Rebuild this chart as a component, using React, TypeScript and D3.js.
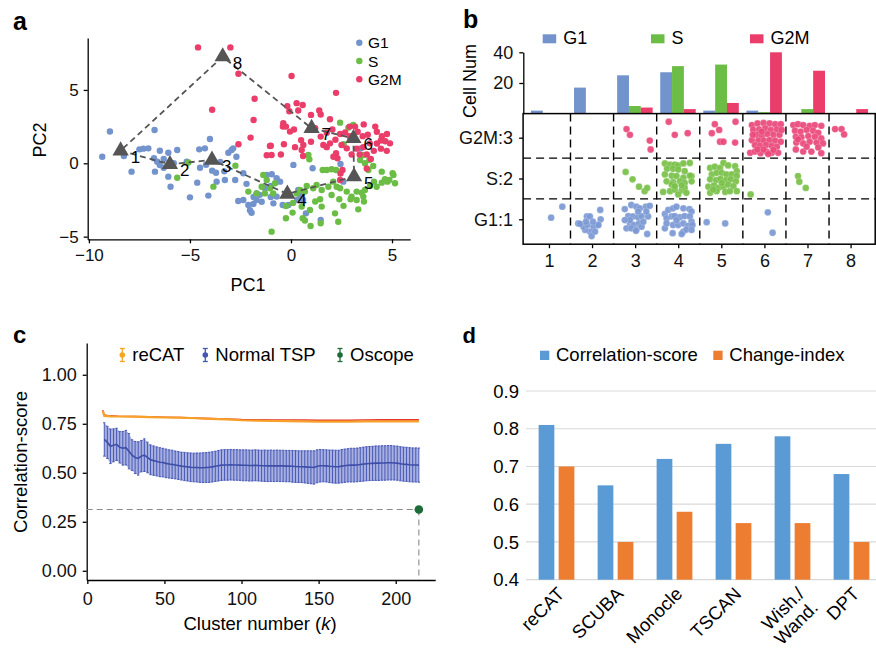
import { useRef, useEffect } from 'react'
import * as d3 from 'd3'

const FONT = '"Liberation Sans", Arial, Helvetica, sans-serif'

// ---------- panel a: PCA scatter ----------
const g1Points: [number, number][] = [
  [-9.34, 0.45], [-8.96, 2.17], [-8.27, 0.5], [-7.89, -0.57], [-7.31, 1.0], [-7.06, 1.02], [-6.75, 2.27],
  [-6.78, 0.34], [-6.62, 0.11], [-6.49, -0.12], [-6.49, 0.86], [-6.07, 0.72], [-5.63, 0.91], [-6.73, -0.57],
  [-6.07, -0.91], [-5.96, -1.6], [-6.3, 0.3], [-5.16, 0.11], [-4.64, -1.32], [-5.0, -2.32], [-4.54, 0.95],
  [-4.26, 1.02], [-4.01, 1.66], [-4.5, -0.3], [-4.2, -0.1], [-4.09, -2.2], [-3.71, -0.64], [-3.68, -1.25],
  [-3.27, -1.14], [-3.1, 0.72], [-2.94, 0.91], [-2.86, 1.02], [-2.7, 0.45], [-2.76, -1.14], [-2.36, -0.68],
  [-2.61, -2.57], [-2.36, -2.5], [-2.11, -2.84], [-1.86, -2.77], [-2.03, -3.2], [-1.7, -2.5], [-1.45, -2.62],
  [-1.95, -3.37], [-1.2, -0.8], [-0.95, -0.75], [-0.71, -1.02], [-0.54, -1.25], [-0.87, -2.73], [-0.41, -2.84],
  [0.12, -0.11], [0.36, -1.82], [0.74, -3.41], [1.07, -0.34], [1.47, -3.86], [2.59, -1.25], [3.45, 1.02],
  [-1.7, -2.05], [-1.29, -1.7], [-1.0, -1.55], [-0.71, -2.27], [-0.13, -2.84], [0.31, -2.5], [0.45, -2.2],
  [-2.2, -1.4], [-1.55, -2.15], [-6.3, -0.3], [-5.8, 0.0], [-3.5, 0.1], [-3.9, -0.5], [-3.3, -0.55],
  [-7.5, 0.95], [-1.0, -2.3], [-1.85, -2.3], [2.45, -0.05], [0.6, -2.5],
]
const sPoints: [number, number][] = [
  [-5.63, -0.98], [-5.08, 0.05], [-3.84, -1.59], [-2.75, -0.16], [-2.11, -1.93], [-1.37, -0.8], [-1.2, -1.14],
  [-1.45, -1.6], [-0.79, -1.36], [-1.04, -1.7], [-1.29, -2.05], [-1.7, -2.05], [-0.88, -2.05], [-0.96, -4.66],
  [-0.25, -3.75], [0.08, -3.36], [-0.25, -2.91], [0.53, -2.95], [0.58, -3.75], [0.69, -3.9], [0.94, -3.18],
  [0.97, -4.27], [1.44, -2.45], [1.47, -4.09], [1.52, -2.95], [2.01, -2.16], [2.34, -3.98], [2.39, -2.45],
  [2.18, -3.41], [2.95, -2.45], [3.25, -2.5], [3.33, -3.14], [3.5, -2.0], [3.61, -2.61], [4.49, -1.32],
  [4.77, -1.25], [5.03, -0.68], [5.15, -1.36], [2.43, 2.77], [3.08, 2.61], [0.86, 0.57], [0.91, 0.27],
  [1.57, -0.46], [1.77, -0.46], [2.01, -0.41], [2.23, -0.46], [3.42, 0.22], [3.66, 0.0], [3.88, 0.22],
  [3.58, 0.57], [3.83, -0.46], [4.07, -0.18], [4.49, -0.57], [4.65, -1.09], [4.87, -1.14], [5.07, -0.8],
  [4.11, -1.25], [4.24, -1.6], [3.91, -1.55], [3.66, -1.82], [3.58, -2.27], [3.25, -1.93], [3.0, -2.27],
  [2.76, -1.93], [2.43, -1.7], [2.26, -1.6], [2.09, -1.25], [1.85, -1.6], [1.52, -1.82], [1.27, -1.48],
  [1.1, -1.7], [0.78, -1.55], [0.69, -1.93], [0.45, -1.82], [0.28, -2.05], [2.84, 2.43], [2.6, 1.3],
  [1.2, -2.6], [0.1, -2.7], [2.6, -2.9],
]
const g2mPoints: [number, number][] = [
  [-4.6, 7.9], [-3.0, 7.9], [-2.6, 6.1], [-1.8, 4.4], [-3.9, 3.65], [-1.85, 2.95], [-2.0, 1.75], [-2.6, 1.3],
  [-1.2, 0.55], [-1.0, 1.2], [0.03, 5.95], [2.23, 4.8], [-0.18, 3.9], [0.28, 4.1], [0.58, 3.97], [0.36, 3.6],
  [-0.08, 3.55], [1.4, 3.6], [1.47, 3.33], [1.93, 3.0], [0.99, 3.3], [-0.38, 2.73], [-0.25, 2.5], [-0.05, 2.16],
  [0.99, 1.47], [0.5, 1.58], [1.47, 1.82], [1.77, 2.09], [1.93, 1.36], [2.2, 1.6], [2.43, 2.0], [2.68, 2.1],
  [2.9, 1.85], [3.17, 2.5], [3.3, 2.15], [3.55, 1.85], [3.8, 1.95], [4.17, 2.5], [4.25, 2.15], [4.5, 1.85],
  [4.75, 2.0], [4.67, 1.5], [4.9, 1.36], [4.74, 0.85], [4.45, 1.0], [4.1, 0.85], [3.75, 0.6], [4.25, 1.35],
  [3.9, 1.36], [3.58, 1.1], [3.25, 1.0], [3.4, 0.6], [3.0, 0.6], [2.76, 1.02], [2.5, 1.25], [2.23, 0.68],
  [2.3, 0.34], [2.1, 0.45], [1.77, 1.1], [1.6, 1.25], [0.61, 1.25], [0.53, 0.91], [0.2, 1.1], [-0.35, 1.3],
  [-1.04, 1.18], [-0.96, 0.57], [-0.5, 0.6], [0.6, 0.5], [3.75, -0.35], [2.43, -1.14], [2.55, -0.45],
  [2.45, -0.7], [3.95, 0.3], [1.2, 2.4], [2.05, 2.3], [3.6, 2.65], [2.9, 2.5], [0.15, 2.3], [-0.4, 2.5],
  [4.45, 1.55],
]
const centroids: [number, number][] = [
  [-8.43, 0.86], [-5.99, -0.07], [-3.91, 0.23], [-0.18, -2.09],
  [3.12, -0.91], [3.09, 1.7], [1.02, 2.39], [-3.38, 7.27],
]
const centroidLabels = ['1', '2', '3', '4', '5', '6', '7', '8']
const phaseNames = ['G1', 'S', 'G2M']

// ---------- panel b: cells per cluster ----------
const clusters = [1, 2, 3, 4, 5, 6, 7, 8]
const cellNumG1 = [2, 17, 25, 27, 2, 2, 0, 0]
const cellNumS = [0, 0, 5, 31, 32, 1, 3, 0]
const cellNumG2M = [0, 0, 4, 3, 7, 40, 28, 3]
const rowLabels = ['G1:1', 'S:2', 'G2M:3']
// [cluster, offset x, offset y] around (cluster, phase row)
const dotsG1: [number, number, number][] = [
  [1, 0.05, 0.04], [1, 0.31, 0.31],
  [2, -0.32, -0.1], [2, -0.12, 0.07], [2, -0.05, 0.07], [2, 0.19, 0.23], [2, 0.2, 0.0], [2, 0.12, -0.14],
  [2, 0.03, -0.18], [2, -0.05, -0.3], [2, -0.01, -0.41], [2, -0.16, -0.26], [2, -0.2, -0.18], [2, -0.28, -0.11],
  [2, -0.11, -0.14], [2, 0.07, -0.3], [2, 0.15, -0.14], [2, -0.14, -0.06], [2, 0.02, -0.06],
  [3, -0.24, 0.25], [3, -0.09, 0.35], [3, 0.03, 0.31], [3, 0.11, 0.27], [3, 0.25, 0.31], [3, 0.34, 0.33],
  [3, -0.16, 0.08], [3, -0.05, 0.07], [3, 0.07, 0.05], [3, 0.15, 0.08], [3, 0.3, 0.07], [3, -0.12, -0.1],
  [3, -0.03, -0.14], [3, 0.09, -0.1], [3, -0.2, -0.22], [3, -0.09, -0.22], [3, 0.03, -0.25], [3, 0.15, -0.18],
  [3, 0.28, -0.36], [3, 0.02, -0.28], [3, -0.12, -0.02], [3, 0.19, -0.06], [3, -0.24, -0.02], [3, 0.26, 0.19],
  [3, 0.07, 0.19],
  [4, -0.31, 0.13], [4, -0.23, 0.23], [4, -0.12, 0.27], [4, -0.04, 0.31], [4, 0.12, 0.27], [4, 0.26, 0.25],
  [4, 0.31, 0.19], [4, -0.27, 0.02], [4, -0.15, 0.07], [4, -0.08, 0.08], [4, 0.04, 0.05], [4, 0.15, 0.08],
  [4, 0.27, 0.07], [4, 0.31, -0.06], [4, -0.31, -0.22], [4, -0.12, -0.14], [4, 0.0, -0.14], [4, 0.12, -0.1],
  [4, 0.23, -0.16], [4, 0.33, -0.14], [4, -0.13, -0.34], [4, 0.12, -0.3], [4, 0.19, -0.25], [4, 0.31, -0.26],
  [4, 0.08, -0.36], [4, -0.04, -0.02], [4, -0.27, -0.1],
  [5, -0.34, -0.07], [5, 0.09, -0.1],
  [6, 0.08, 0.17], [6, 0.19, -0.33],
]
const dotsS: [number, number, number][] = [
  [3, -0.22, 0.16], [3, -0.06, -0.02], [3, 0.09, -0.2], [3, 0.22, -0.31], [3, 0.28, -0.23],
  [4, -0.31, 0.37], [4, -0.19, 0.34], [4, -0.08, 0.34], [4, 0.0, 0.32], [4, 0.12, 0.37], [4, 0.27, 0.38],
  [4, -0.26, 0.24], [4, -0.12, 0.24], [4, 0.0, 0.22], [4, 0.15, 0.18], [4, 0.31, 0.06], [4, -0.31, 0.1],
  [4, -0.15, 0.07], [4, -0.04, 0.06], [4, 0.12, 0.02], [4, 0.27, 0.07], [4, -0.27, -0.07], [4, -0.12, -0.09],
  [4, 0.04, -0.07], [4, 0.15, -0.11], [4, 0.31, -0.07], [4, -0.35, -0.33], [4, -0.19, -0.31], [4, -0.08, -0.27],
  [4, 0.08, -0.29], [4, 0.15, -0.23], [4, 0.0, -0.39], [4, -0.15, -0.15], [4, 0.08, -0.17], [4, -0.08, -0.19],
  [4, 0.19, -0.35],
  [5, -0.26, 0.26], [5, -0.15, 0.29], [5, -0.03, 0.26], [5, 0.05, 0.38], [5, 0.16, 0.32], [5, 0.32, 0.3],
  [5, 0.36, 0.18], [5, -0.22, 0.1], [5, -0.11, 0.14], [5, 0.01, 0.14], [5, 0.12, 0.1], [5, 0.24, 0.1],
  [5, 0.36, 0.06], [5, -0.26, -0.02], [5, -0.12, -0.04], [5, -0.02, -0.01], [5, 0.11, -0.04], [5, 0.22, -0.02],
  [5, 0.34, -0.07], [5, -0.3, -0.2], [5, -0.17, -0.17], [5, -0.07, -0.23], [5, 0.05, -0.2], [5, 0.16, -0.15],
  [5, 0.28, -0.19], [5, 0.36, -0.31], [5, -0.26, -0.35], [5, -0.11, -0.31], [5, 0.09, -0.33], [5, 0.2, -0.31],
  [5, 0.01, -0.11], [5, -0.19, -0.27],
  [6, -0.32, -0.39],
  [7, -0.22, 0.06], [7, -0.19, -0.08], [7, -0.04, -0.23],
]
const dotsG2M: [number, number, number][] = [
  [3, -0.2, 0.21], [3, -0.12, 0.07], [3, 0.34, -0.07], [3, 0.36, -0.29],
  [4, -0.22, 0.39], [4, -0.08, 0.07], [4, 0.22, 0.11],
  [5, -0.15, 0.33], [5, -0.22, 0.11], [5, -0.05, 0.19], [5, 0.33, 0.39], [5, -0.03, -0.1], [5, 0.05, -0.1],
  [5, 0.32, -0.12],
  [6, -0.29, 0.31], [6, -0.16, 0.35], [6, -0.02, 0.36], [6, 0.12, 0.35], [6, 0.25, 0.33], [6, 0.38, 0.33],
  [6, -0.26, 0.19], [6, -0.12, 0.2], [6, 0.02, 0.23], [6, 0.15, 0.19], [6, 0.29, 0.2], [6, -0.18, 0.07],
  [6, -0.06, 0.04], [6, 0.07, 0.09], [6, 0.21, 0.07], [6, 0.35, 0.07], [6, -0.29, -0.06], [6, -0.14, -0.07],
  [6, -0.01, -0.07], [6, 0.12, -0.06], [6, 0.25, -0.07], [6, 0.38, -0.1], [6, -0.22, -0.18], [6, -0.1, -0.2],
  [6, 0.04, -0.18], [6, 0.17, -0.2], [6, 0.29, -0.22], [6, -0.33, -0.37], [6, -0.22, -0.34], [6, -0.09, -0.38],
  [6, 0.05, -0.34], [6, 0.17, -0.37], [6, 0.32, -0.37], [6, -0.16, -0.29], [6, 0.21, -0.3], [6, -0.02, -0.29],
  [6, 0.4, 0.19], [6, -0.27, 0.07], [6, 0.09, -0.4], [6, -0.06, 0.15],
  [7, -0.33, 0.31], [7, -0.22, 0.33], [7, -0.1, 0.31], [7, 0.05, 0.29], [7, 0.17, 0.31], [7, 0.32, 0.29],
  [7, -0.29, 0.17], [7, -0.16, 0.15], [7, -0.02, 0.19], [7, 0.13, 0.17], [7, 0.25, 0.12], [7, -0.27, 0.02],
  [7, -0.14, 0.01], [7, 0.02, 0.04], [7, 0.17, 0.02], [7, 0.32, -0.02], [7, -0.26, -0.12], [7, -0.1, -0.14],
  [7, 0.05, -0.1], [7, 0.21, -0.12], [7, 0.36, -0.14], [7, -0.27, -0.29], [7, -0.1, -0.34], [7, 0.09, -0.34],
  [7, 0.32, -0.38], [7, -0.02, -0.22], [7, -0.22, -0.04], [7, 0.25, -0.24],
  [8, -0.36, 0.21], [8, -0.21, 0.21], [8, -0.15, 0.08],
]

// ---------- panel c: correlation score vs cluster number ----------
const tspK = [
  11, 13, 15, 17, 19, 21, 23, 25, 27, 29, 31, 33, 35, 37, 39, 41, 43, 45, 47, 49, 51, 53, 55, 57, 59, 61,
  63, 65, 67, 69, 71, 73, 75, 77, 79, 81, 83, 85, 87, 89, 91, 93, 95, 97, 99, 101, 103, 105, 107, 109, 111,
  113, 115, 117, 119, 121, 123, 125, 127, 129, 131, 133, 135, 137, 139, 141, 143, 145, 147, 149, 151, 153,
  155, 157, 159, 161, 163, 165, 167, 169, 171, 173, 175, 177, 179, 181, 183, 185, 187, 189, 191, 193, 195,
  197, 199, 201, 203, 205, 207, 209, 211, 213, 215,
]
const tspMean = [
  0.67, 0.655, 0.635, 0.64, 0.645, 0.63, 0.625, 0.628, 0.61, 0.59, 0.578, 0.573, 0.585, 0.59, 0.578, 0.566,
  0.562, 0.558, 0.554, 0.552, 0.548, 0.545, 0.543, 0.54, 0.537, 0.534, 0.532, 0.53, 0.528, 0.527, 0.527,
  0.526, 0.526, 0.527, 0.528, 0.53, 0.533, 0.536, 0.539, 0.54, 0.54, 0.541, 0.54, 0.54, 0.539, 0.538, 0.538,
  0.537, 0.537, 0.538, 0.537, 0.536, 0.536, 0.535, 0.536, 0.535, 0.536, 0.535, 0.535, 0.534, 0.534, 0.533,
  0.532, 0.531, 0.531, 0.53, 0.529, 0.528, 0.527, 0.533, 0.536, 0.536, 0.535, 0.533, 0.532, 0.531, 0.531,
  0.534, 0.536, 0.538, 0.539, 0.539, 0.54, 0.542, 0.544, 0.546, 0.547, 0.548, 0.549, 0.549, 0.55, 0.55,
  0.551, 0.551, 0.55, 0.549, 0.546, 0.544, 0.543, 0.541, 0.54, 0.54, 0.539,
]
const tspSd = [
  0.085, 0.082, 0.088, 0.084, 0.082, 0.08, 0.086, 0.088, 0.09, 0.078, 0.082, 0.085, 0.08, 0.083, 0.078,
  0.076, 0.075, 0.074, 0.074, 0.073, 0.073, 0.072, 0.072, 0.071, 0.071, 0.071, 0.072, 0.072, 0.073, 0.073,
  0.074, 0.075, 0.076, 0.076, 0.077, 0.077, 0.077, 0.078, 0.078, 0.078, 0.078, 0.078, 0.078, 0.078, 0.078,
  0.079, 0.079, 0.079, 0.079, 0.079, 0.079, 0.079, 0.08, 0.08, 0.08, 0.08, 0.08, 0.08, 0.08, 0.08, 0.08,
  0.081, 0.081, 0.081, 0.081, 0.082, 0.083, 0.084, 0.085, 0.084, 0.083, 0.082, 0.082, 0.083, 0.084, 0.084,
  0.084, 0.085, 0.085, 0.085, 0.086, 0.086, 0.086, 0.086, 0.087, 0.087, 0.087, 0.087, 0.088, 0.088, 0.088,
  0.088, 0.088, 0.088, 0.087, 0.087, 0.087, 0.087, 0.087, 0.087, 0.087, 0.087, 0.087,
]
const recatK = [10, 11, 15, 20, 30, 40, 50, 60, 70, 80, 90, 100, 110, 120, 130, 140, 150, 160, 170, 180, 190, 200, 210, 215]
const recatMean = [
  0.815, 0.79, 0.788, 0.787, 0.786, 0.784, 0.782, 0.781, 0.778, 0.775, 0.772, 0.768, 0.766, 0.764, 0.763,
  0.762, 0.761, 0.761, 0.761, 0.762, 0.762, 0.762, 0.762, 0.762,
]
const recatSd = [
  0.004, 0.004, 0.002, 0.001, 0.001, 0.001, 0.001, 0.001, 0.001, 0.001, 0.002, 0.003, 0.004, 0.005, 0.006,
  0.007, 0.007, 0.007, 0.007, 0.007, 0.008, 0.008, 0.008, 0.008,
]
const oscopeK = 215
const oscopeScore = 0.313
const cLegend = ['reCAT', 'Normal TSP', 'Oscope']

// ---------- panel d: method comparison ----------
const methods = ['reCAT', 'SCUBA', 'Monocle', 'TSCAN', 'Wish./Wand.', 'DPT']
const corrScore = [0.81, 0.65, 0.72, 0.76, 0.78, 0.68]
const changeIndex = [0.7, 0.5, 0.58, 0.55, 0.55, 0.5]
const dLegend = ['Correlation-score', 'Change-index']
const dTicks = [0.4, 0.5, 0.6, 0.7, 0.8, 0.9]

const COL_G1 = '#7393cd'
const COL_S = '#6cbd45'
const COL_G2M = '#ea3d69'

const App = () => {
  const chartRef = useRef<SVGSVGElement>(null)

  useEffect(() => {
    drawChart()
  }, [])

  const styleAxis = (g: any, size: number) => {
    g.attr('font-family', FONT).attr('font-size', size)
    g.selectAll('.domain').attr('stroke', '#000').attr('stroke-width', 1.3)
    g.selectAll('.tick line').attr('stroke', '#000').attr('stroke-width', 1.3)
    g.selectAll('.tick text').attr('fill', '#111')
  }

  const panelLabel = (svg: any, t: string, x: number, y: number, size: number) => {
    svg.append('text').attr('x', x).attr('y', y).attr('font-family', FONT)
      .attr('font-weight', 'bold').attr('font-size', size).text(t)
  }

  const drawChart = () => {
    const svg = d3.select(chartRef.current)
    svg.selectAll('*').remove()

    // ===== a =====
    const ax = d3.scaleLinear().domain([-10.06, 5.9]).range([87.7, 410.2])
    const ay = d3.scaleLinear().domain([-5.18, 8.54]).range([239.3, 38])
    panelLabel(svg, 'a', 13, 30, 25)

    const axA = svg.append('g').attr('transform', `translate(0,${ay.range()[0]})`)
      .call(d3.axisBottom(ax).tickValues([-10, -5, 0, 5]).tickSize(4).tickSizeOuter(0).tickPadding(6))
    styleAxis(axA, 17)
    const ayA = svg.append('g').attr('transform', `translate(${ax.range()[0]},0)`)
      .call(d3.axisLeft(ay).tickValues([-5, 0, 5]).tickSize(4).tickSizeOuter(0).tickPadding(5))
    styleAxis(ayA, 17)
    svg.append('text').attr('x', 248).attr('y', 291).attr('text-anchor', 'middle')
      .attr('font-family', FONT).attr('font-size', 18).text('PC1')
    svg.append('text').attr('transform', 'translate(46,140) rotate(-90)').attr('text-anchor', 'middle')
      .attr('font-family', FONT).attr('font-size', 18).text('PC2')

    const sets: [[number, number][], string][] = [[g1Points, COL_G1], [sPoints, COL_S], [g2mPoints, COL_G2M]]
    sets.forEach(([pts, col]) => {
      svg.append('g').selectAll('circle').data(pts).enter().append('circle')
        .attr('cx', (d) => ax(d[0])).attr('cy', (d) => ay(d[1])).attr('r', 3.2).attr('fill', col)
    })

    const path = [...centroids, centroids[0]]
    svg.append('path')
      .attr('d', d3.line().x((d) => ax(d[0])).y((d) => ay(d[1]))(path) as string)
      .attr('fill', 'none').attr('stroke', '#555').attr('stroke-width', 1.8).attr('stroke-dasharray', '6,4')
    svg.append('g').selectAll('path').data(centroids).enter().append('path')
      .attr('d', d3.symbol().type(d3.symbolTriangle).size(115)() as string)
      .attr('transform', (d) => `translate(${ax(d[0])},${ay(d[1])})`)
      .attr('fill', '#555')
    svg.append('g').selectAll('text').data(centroids).enter().append('text')
      .attr('x', (d) => ax(d[0]) + 10).attr('y', (d) => ay(d[1]) + 12)
      .attr('font-family', FONT).attr('font-size', 17)
      .text((_, i) => centroidLabels[i])

    const legA = svg.append('g')
    phaseNames.forEach((p, i) => {
      legA.append('circle').attr('cx', 359.3).attr('cy', 42.7 + i * 18.3).attr('r', 3.2)
        .attr('fill', [COL_G1, COL_S, COL_G2M][i])
      legA.append('text').attr('x', 368).attr('y', 48.2 + i * 18.3).attr('font-family', FONT)
        .attr('font-size', 15.5).text(p)
    })

    // ===== b =====
    panelLabel(svg, 'b', 463, 28, 25)
    const bx = d3.scaleLinear().domain([0.4, 8.59]).range([523.1, 876])
    const by = d3.scaleLinear().domain([0.39, 3.59]).range([244.2, 113.6])
    const byBar = d3.scaleLinear().domain([0, 40]).range([113.7, 52.3])
    const bSub = d3.scaleBand().domain(phaseNames).range([-18, 17.5])

    const counts = [cellNumG1, cellNumS, cellNumG2M]
    const barCols = [COL_G1, COL_S, COL_G2M]
    counts.forEach((arr, pi) => {
      svg.append('g').selectAll('rect').data(arr).enter().append('rect')
        .attr('x', (_, i) => bx(clusters[i]) + (bSub(phaseNames[pi]) as number))
        .attr('width', bSub.bandwidth())
        .attr('y', (d) => byBar(d))
        .attr('height', (d) => byBar(0) - byBar(d))
        .attr('fill', barCols[pi])
    })
    const byAx = svg.append('g').attr('transform', `translate(${bx.range()[0] + 0.2},0)`)
      .call(d3.axisLeft(byBar).tickValues([20, 40]).tickSize(4).tickSizeOuter(0).tickPadding(6))
    styleAxis(byAx, 18)
    svg.append('text').attr('transform', 'translate(476,81) rotate(-90)').attr('text-anchor', 'middle')
      .attr('font-family', FONT).attr('font-size', 18).text('Cell Num')

    const legB = [542.7, 651, 750]
    phaseNames.forEach((p, i) => {
      svg.append('rect').attr('x', legB[i]).attr('y', 34.3).attr('width', 13.5).attr('height', 9).attr('fill', barCols[i])
      svg.append('text').attr('x', legB[i] + 20.5).attr('y', 43.5).attr('font-family', FONT)
        .attr('font-size', 18).text(p)
    })

    // dot plot
    const dotSets: [[number, number, number][], number, string][] = [
      [dotsG1, 1, '#7b98d4'], [dotsS, 2, '#77c046'], [dotsG2M, 3, '#e9477a'],
    ]
    dotSets.forEach(([arr, row, col]) => {
      svg.append('g').selectAll('circle').data(arr).enter().append('circle')
        .attr('cx', (d) => bx(d[0] + d[1])).attr('cy', (d) => by(row + d[2]))
        .attr('r', 3.4).attr('fill', col).attr('fill-opacity', 0.92)
        .attr('stroke', '#fff').attr('stroke-opacity', 0.35).attr('stroke-width', 0.6)
    })
    const sepX = [1.5, 2.5, 3.5, 4.5, 5.5, 6.5, 7.5]
    svg.append('g').selectAll('line').data(sepX).enter().append('line')
      .attr('x1', (d) => bx(d)).attr('x2', (d) => bx(d))
      .attr('y1', by.range()[1]).attr('y2', by.range()[0])
      .attr('stroke', '#000').attr('stroke-width', 1.4).attr('stroke-dasharray', '8,5')
    svg.append('g').selectAll('line').data([1.5, 2.5]).enter().append('line')
      .attr('x1', bx.range()[0]).attr('x2', bx.range()[1])
      .attr('y1', (d) => by(d)).attr('y2', (d) => by(d))
      .attr('stroke', '#000').attr('stroke-width', 1.4).attr('stroke-dasharray', '8,5')
    svg.append('rect').attr('x', bx.range()[0]).attr('y', by.range()[1])
      .attr('width', bx.range()[1] - bx.range()[0] - 0.8).attr('height', by.range()[0] - by.range()[1])
      .attr('fill', 'none').attr('stroke', '#000').attr('stroke-width', 1.5)

    const bxAx = svg.append('g').attr('transform', `translate(0,${by.range()[0]})`)
      .call(d3.axisBottom(bx).tickValues(clusters).tickFormat(d3.format('d')).tickSize(4).tickSizeOuter(0).tickPadding(6))
    styleAxis(bxAx, 18)
    bxAx.select('.domain').remove()
    const byRow = svg.append('g').attr('transform', `translate(${bx.range()[0]},0)`)
      .call(d3.axisLeft(by).tickValues([1, 2, 3]).tickFormat((d) => rowLabels[(d as number) - 1]).tickSize(4).tickPadding(6))
    styleAxis(byRow, 18)
    byRow.select('.domain').remove()

    // ===== c =====
    panelLabel(svg, 'c', 13, 343, 24)
    const cx = d3.scaleLinear().domain([-0.4, 225.6]).range([86.7, 435.2])
    const cy = d3.scaleLinear().domain([-0.047, 1.162]).range([580, 343])

    const cxAx = svg.append('g').attr('transform', `translate(0,${cy.range()[0]})`)
      .call(d3.axisBottom(cx).tickValues([0, 50, 100, 150, 200]).tickSize(4).tickSizeOuter(0).tickPadding(8))
    styleAxis(cxAx, 18)
    const cyAx = svg.append('g').attr('transform', `translate(${cx.range()[0]},0)`)
      .call(d3.axisLeft(cy).tickValues([0, 0.25, 0.5, 0.75, 1]).tickFormat(d3.format('.2f')).tickSize(4).tickSizeOuter(0).tickPadding(6))
    styleAxis(cyAx, 18)
    svg.append('text').attr('transform', 'translate(27,462) rotate(-90)').attr('text-anchor', 'middle')
      .attr('font-family', FONT).attr('font-size', 18.5).text('Correlation-score')
    const xt = svg.append('text').attr('x', 260).attr('y', 630).attr('text-anchor', 'middle')
      .attr('font-family', FONT).attr('font-size', 18.5)
    xt.append('tspan').text('Cluster number (')
    xt.append('tspan').attr('font-style', 'italic').text('k')
    xt.append('tspan').text(')')

    // Normal TSP band + error bars
    const idx = tspK.map((_, i) => i)
    svg.append('path')
      .attr('d', d3.area<number>().x((i) => cx(tspK[i])).y0((i) => cy(tspMean[i] - tspSd[i])).y1((i) => cy(tspMean[i] + tspSd[i]))(idx) as string)
      .attr('fill', '#a7b0e0')
    const eb = svg.append('g').attr('stroke', '#4a5ab5').attr('stroke-width', 1)
    idx.forEach((i) => {
      const x = cx(tspK[i])
      const y0 = cy(tspMean[i] - tspSd[i])
      const y1 = cy(tspMean[i] + tspSd[i])
      eb.append('line').attr('x1', x).attr('x2', x).attr('y1', y0).attr('y2', y1)
      eb.append('line').attr('x1', x - 1.2).attr('x2', x + 1.2).attr('y1', y0).attr('y2', y0)
      eb.append('line').attr('x1', x - 1.2).attr('x2', x + 1.2).attr('y1', y1).attr('y2', y1)
    })
    svg.append('path')
      .attr('d', d3.line<number>().x((i) => cx(tspK[i])).y((i) => cy(tspMean[i]))(idx) as string)
      .attr('fill', 'none').attr('stroke', '#3e4ea8').attr('stroke-width', 1.6)

    // reCAT
    const ridx = recatK.map((_, i) => i)
    svg.append('path')
      .attr('d', d3.line<number>().x((i) => cx(recatK[i])).y((i) => cy(recatMean[i] + recatSd[i]))(ridx) as string)
      .attr('fill', 'none').attr('stroke', '#e6362b').attr('stroke-width', 1.6)
    svg.append('path')
      .attr('d', d3.line<number>().x((i) => cx(recatK[i])).y((i) => cy(recatMean[i]))(ridx) as string)
      .attr('fill', 'none').attr('stroke', '#f7a12b').attr('stroke-width', 2.2)

    // Oscope
    svg.append('line').attr('x1', cx.range()[0]).attr('x2', cx(oscopeK))
      .attr('y1', cy(oscopeScore)).attr('y2', cy(oscopeScore))
      .attr('stroke', '#8a8a8a').attr('stroke-width', 1.1).attr('stroke-dasharray', '6,4')
    svg.append('line').attr('x1', cx(oscopeK)).attr('x2', cx(oscopeK))
      .attr('y1', cy(oscopeScore)).attr('y2', cy.range()[0])
      .attr('stroke', '#8a8a8a').attr('stroke-width', 1.1).attr('stroke-dasharray', '6,4')
    svg.append('circle').attr('cx', cx(oscopeK)).attr('cy', cy(oscopeScore)).attr('r', 4.3).attr('fill', '#1d6b37')

    const legCx = [122.3, 205.3, 340]
    const legCcol = ['#f5a623', '#4556b3', '#1d6b37']
    cLegend.forEach((t, i) => {
      const g = svg.append('g').attr('stroke', legCcol[i]).attr('stroke-width', 1.3)
      g.append('line').attr('x1', legCx[i]).attr('x2', legCx[i]).attr('y1', 348.5).attr('y2', 361.5)
      g.append('line').attr('x1', legCx[i] - 2.5).attr('x2', legCx[i] + 2.5).attr('y1', 348.5).attr('y2', 348.5)
      g.append('line').attr('x1', legCx[i] - 2.5).attr('x2', legCx[i] + 2.5).attr('y1', 361.5).attr('y2', 361.5)
      svg.append('circle').attr('cx', legCx[i]).attr('cy', 355).attr('r', 2.8).attr('fill', legCcol[i])
      svg.append('text').attr('x', legCx[i] + 10).attr('y', 361).attr('font-family', FONT)
        .attr('font-size', 18.5).text(t)
    })

    // ===== d =====
    panelLabel(svg, 'd', 462.5, 343, 22)
    const dx0 = d3.scaleBand().domain(methods).range([527, 881]).padding(0)
    const dx1 = d3.scaleBand().domain(dLegend).range([0, dx0.bandwidth()]).paddingInner(0.215).paddingOuter(0.58)
    const dy = d3.scaleLinear().domain([0.4, 0.9]).range([579.7, 391])

    svg.append('g').selectAll('line').data(dTicks).enter().append('line')
      .attr('x1', 526).attr('x2', 876).attr('y1', (d) => dy(d)).attr('y2', (d) => dy(d))
      .attr('stroke', '#d9d9d9').attr('stroke-width', 1.2)
    svg.append('g').selectAll('text').data(dTicks).enter().append('text')
      .attr('x', 519).attr('y', (d) => dy(d)).attr('dy', '0.36em').attr('text-anchor', 'end')
      .attr('font-family', FONT).attr('font-size', 18.5).text((d) => d3.format('.1f')(d))

    const dCols = ['#5b9bd5', '#ed7d31']
    ;[corrScore, changeIndex].forEach((arr, si) => {
      svg.append('g').selectAll('rect').data(arr).enter().append('rect')
        .attr('x', (_, i) => (dx0(methods[i]) as number) + (dx1(dLegend[si]) as number))
        .attr('width', dx1.bandwidth())
        .attr('y', (d) => dy(d))
        .attr('height', (d) => dy(0.4) - dy(d))
        .attr('fill', dCols[si])
    })

    methods.forEach((m) => {
      const c = (dx0(m) as number) + dx0.bandwidth() / 2
      const lines = m.includes('/') ? ['Wish./', 'Wand.'] : [m]
      const tx = lines.length > 1 ? c + 13 : c + 9
      const t = svg.append('text').attr('transform', `translate(${tx},595) rotate(-45)`)
        .attr('text-anchor', 'end').attr('font-family', FONT).attr('font-size', 18.5)
      lines.forEach((l, li) => {
        t.append('tspan').attr('x', 0).attr('dy', li === 0 ? 0 : '1.05em').text(l)
      })
    })

    const legDx = [540, 713.3]
    dLegend.forEach((t, i) => {
      svg.append('rect').attr('x', legDx[i]).attr('y', 350.7).attr('width', 9.3).attr('height', 9.3).attr('fill', dCols[i])
      svg.append('text').attr('x', legDx[i] + 16).attr('y', 361).attr('font-family', FONT)
        .attr('font-size', 18.5).text(t)
    })
  }

  return (
    <section>
      <svg ref={chartRef} width={876} height={654}
        style={{ position: 'absolute', left: 0, top: 0, background: '#fff' }}></svg>
    </section>
  )
}

export default App
